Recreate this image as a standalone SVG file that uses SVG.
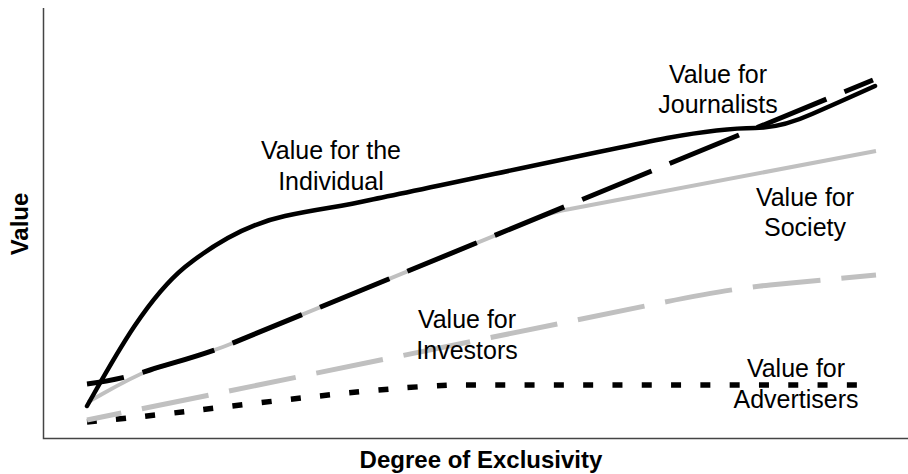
<svg xmlns="http://www.w3.org/2000/svg" width="908" height="474" viewBox="0 0 908 474">
<style>
  .axis { stroke: #444; stroke-width: 1.5; fill: none; }
  .series { fill: none; stroke-linejoin: round; }
  .black { stroke: #000; }
  .gray { stroke: #c0c0c0; }
  .lbl { font-family: "Liberation Sans", Arial, sans-serif; font-size: 25px; fill: #000; text-anchor: middle; }
  .ttl { font-family: "Liberation Sans", Arial, sans-serif; font-size: 24px; font-weight: bold; fill: #000; text-anchor: middle; }
</style>
<rect width="908" height="474" fill="#fff"/>
<g id="axes">
  <path class="axis" d="M43.5,8 V438.5 H908"/>
  <text class="ttl" transform="translate(28,224) rotate(-90)">Value</text>
  <text class="ttl" x="481" y="468">Degree of Exclusivity</text>
</g>
<g id="connectors">
  <path id="advertisers" class="series black" stroke-width="5.5" stroke-dasharray="10 19.3" d="M87,422 C200,412 340,390 450,385 L858,385"/>
  <path id="investors" class="series gray" stroke-width="5" stroke-dasharray="68 21" stroke-dashoffset="33" d="M87,420 L650,305 C690,297 730,289 770,285 L876,275"/>
  <path id="society" class="series gray" stroke-width="4" d="M88,402 C105,393 125,380 150,370 C172,363 200,356 228,345 L540,217 C550,213 558,211 570,209 L876,151"/>
  <path id="journalists" class="series black" stroke-width="5" stroke-dasharray="75 19.5" stroke-dashoffset="37.5" d="M87,384 C110,381 128,377 150,370 C172,363 200,356 228,345 L873,80"/>
  <path id="individual" class="series black" stroke-width="4.5" stroke-linecap="round" d="M87,406 C112,362 145,300 185,267 C215,243 248,224 285,216 C322,208 340,207 370,200 C430,188 600,151 667,138 C700,132 730,128 755,128 C775,128 792,123 812,114 C835,104 855,95 875,86"/>
</g>
<g id="label-individual">
  <text class="lbl" x="331" y="159">Value for the</text>
  <text class="lbl" x="331" y="190">Individual</text>
</g>
<g id="label-journalists">
  <text class="lbl" x="718" y="83">Value for</text>
  <text class="lbl" x="718" y="113">Journalists</text>
</g>
<g id="label-society">
  <text class="lbl" x="805" y="206">Value for</text>
  <text class="lbl" x="805" y="236">Society</text>
</g>
<g id="label-investors">
  <text class="lbl" x="467" y="328">Value for</text>
  <text class="lbl" x="467" y="359">Investors</text>
</g>
<g id="label-advertisers">
  <text class="lbl" x="796" y="377">Value for</text>
  <text class="lbl" x="796" y="408">Advertisers</text>
</g>
</svg>
